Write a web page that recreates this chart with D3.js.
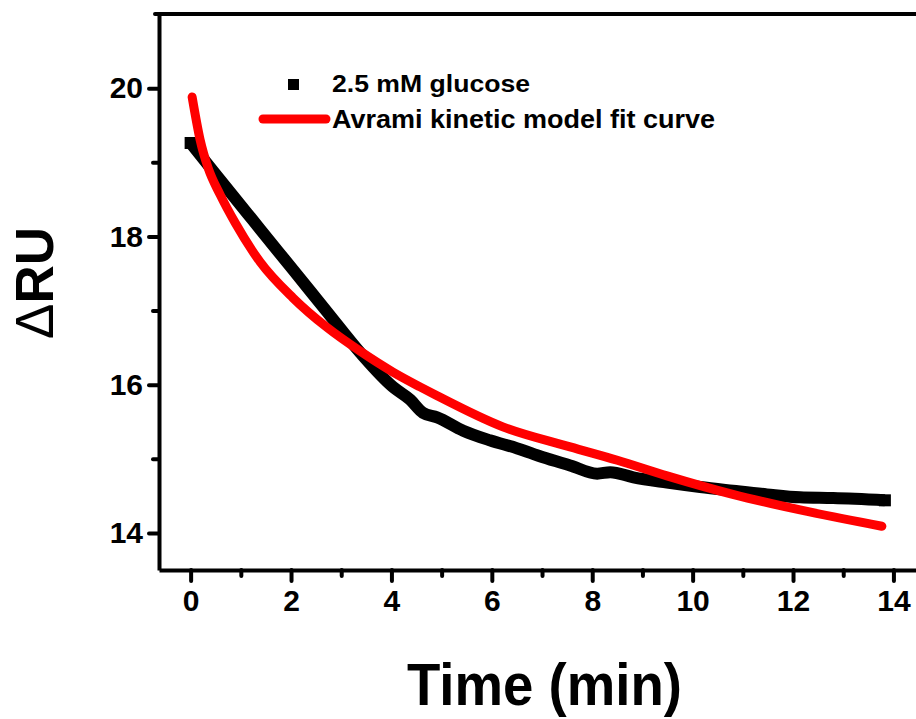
<!DOCTYPE html>
<html>
<head>
    <title>Avrami fit</title>
    <script src="https://d3js.org/d3.v7.min.js"></script>
    <style>
        body { margin: 0; background: #fff; }
        text { font-family: "Liberation Sans", Arial, sans-serif; font-weight: bold; }
    </style>
</head>
<body>
<script>
const dataTime = [0, 0.45, 1.13, 1.38, 2.04, 2.72, 3.38, 4.03, 4.37, 4.63, 4.91, 5.43, 5.96, 6.51, 7.02, 7.56, 8.1, 8.36, 8.82, 9.49, 10.15, 10.8, 11.48, 12.14, 12.8, 13.83];
const dataRU   = [19.26, 18.88, 18.31, 18.1, 17.55, 16.98, 16.43, 15.97, 15.8, 15.62, 15.56, 15.38, 15.25, 15.14, 15.02, 14.91, 14.8, 14.82, 14.75, 14.68, 14.62, 14.57, 14.52, 14.48, 14.47, 14.44];

// Avrami kinetic model fit curve
const fitTime = [0.03, 0.19, 0.35, 0.59, 0.89, 1.38, 2.04, 2.72, 3.38, 4.03, 4.57, 4.91, 6.22, 7.56, 8.5, 9.49, 10.8, 12.14, 13.77];
const fitRU   = [19.88, 19.3, 18.92, 18.56, 18.18, 17.66, 17.17, 16.77, 16.45, 16.17, 15.97, 15.85, 15.43, 15.16, 14.98, 14.77, 14.52, 14.31, 14.09];

const xMajor = [0, 2, 4, 6, 8, 10, 12, 14];
const xMinor = [1, 3, 5, 7, 9, 11, 13];
const yMajor = [14, 16, 18, 20];
const yMinor = [15, 17, 19];

const legendLabels = ["2.5 mM glucose", "Avrami kinetic model fit curve"];

const W = 916, H = 719;
const svg = d3.select("body").append("svg")
    .attr("width", W)
    .attr("height", H);

const x = d3.scaleLinear().domain([-0.63, 15]).range([159, 159 + 15.63 * 50.2]);
const y = d3.scaleLinear().domain([13.5, 21]).range([570, 14]);

// frame (top and right)
svg.append("path")
    .attr("d", `M${x(-0.63) - 4},${y(21)}H${x(15)}V${y(13.5)}`)
    .attr("fill", "none")
    .attr("stroke", "#000")
    .attr("stroke-width", 4)
    .attr("stroke-linecap", "round");

function styleAxis(g) {
    g.selectAll("path.domain").attr("stroke-width", 4);
    g.selectAll(".tick line").attr("stroke-width", 4).attr("stroke-linecap", "round");
    g.selectAll(".tick text").attr("font-size", 30).attr("fill", "#000");
}

// x axis
svg.append("g")
    .attr("transform", `translate(0,${y(13.5)})`)
    .call(d3.axisBottom(x).tickValues(xMajor).tickSize(11).tickSizeOuter(0).tickPadding(9))
    .call(styleAxis);
svg.append("g")
    .attr("transform", `translate(0,${y(13.5)})`)
    .call(d3.axisBottom(x).tickValues(xMinor).tickSize(6).tickFormat(""))
    .call(styleAxis)
    .call(g => g.select(".domain").remove());

// y axis
svg.append("g")
    .attr("transform", `translate(${x(-0.63)},0)`)
    .call(d3.axisLeft(y).tickValues(yMajor).tickSize(10).tickSizeOuter(0).tickPadding(6))
    .call(styleAxis);
svg.append("g")
    .attr("transform", `translate(${x(-0.63)},0)`)
    .call(d3.axisLeft(y).tickValues(yMinor).tickSize(6).tickFormat(""))
    .call(styleAxis)
    .call(g => g.select(".domain").remove());

// axis titles
svg.append("text")
    .attr("x", 407)
    .attr("y", 705)
    .attr("font-size", 59)
    .attr("textLength", 275)
    .attr("lengthAdjust", "spacingAndGlyphs")
    .text("Time (min)");

const yTitle = svg.append("text")
    .attr("transform", "translate(53,283) rotate(-90)")
    .attr("text-anchor", "middle")
    .attr("font-size", 53);
yTitle.append("tspan").attr("font-weight", "normal").text("\u0394");
yTitle.append("tspan").text("RU");

// measured data: square markers joined by a thick band
const pts = dataTime.map((t, i) => ({t: t, v: dataRU[i]}));
svg.append("path")
    .datum(pts)
    .attr("fill", "none")
    .attr("stroke", "#000")
    .attr("stroke-width", 12)
    .attr("stroke-linejoin", "round")
    .attr("d", d3.line().x(d => x(d.t)).y(d => y(d.v)).curve(d3.curveMonotoneX));
svg.append("g").selectAll("rect")
    .data([pts[0], pts[pts.length - 1]])
    .join("rect")
    .attr("x", d => x(d.t) - 6)
    .attr("y", d => y(d.v) - 6)
    .attr("width", 12)
    .attr("height", 12)
    .attr("fill", "#000");

// fit curve
const fit = fitTime.map((t, i) => ({t: t, v: fitRU[i]}));
svg.append("path")
    .datum(fit)
    .attr("fill", "none")
    .attr("stroke", "#ff0000")
    .attr("stroke-width", 9)
    .attr("stroke-linecap", "round")
    .attr("d", d3.line().x(d => x(d.t)).y(d => y(d.v)).curve(d3.curveMonotoneX));

// legend
svg.append("rect")
    .attr("x", 288).attr("y", 79)
    .attr("width", 11).attr("height", 11)
    .attr("fill", "#000");
svg.append("line")
    .attr("x1", 263).attr("x2", 326)
    .attr("y1", 119).attr("y2", 119)
    .attr("stroke", "#ff0000")
    .attr("stroke-width", 9)
    .attr("stroke-linecap", "round");
svg.append("text")
    .attr("x", 332).attr("y", 92)
    .attr("font-size", 23)
    .attr("textLength", 198)
    .attr("lengthAdjust", "spacingAndGlyphs")
    .text(legendLabels[0]);
svg.append("text")
    .attr("x", 332).attr("y", 128)
    .attr("font-size", 25)
    .attr("textLength", 383)
    .attr("lengthAdjust", "spacingAndGlyphs")
    .text(legendLabels[1]);
</script>
</body>
</html>
